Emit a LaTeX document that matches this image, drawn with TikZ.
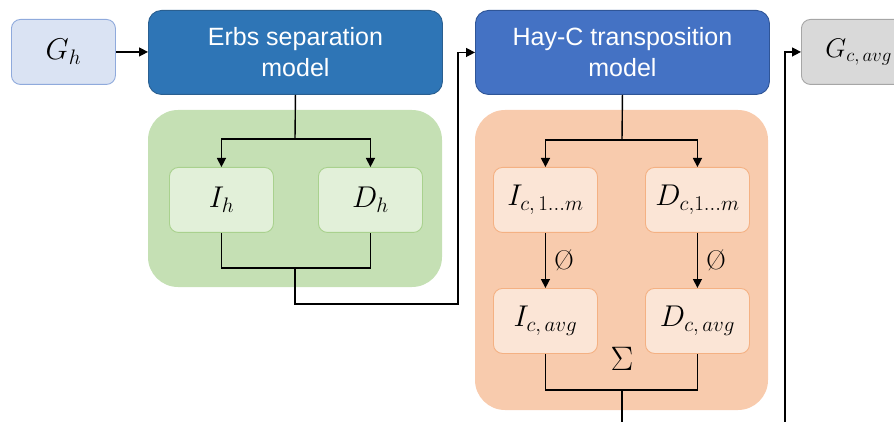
\RequirePackage{fix-cm}
\documentclass[tikz,border=0pt]{standalone}
\usepackage{fontspec}
\newfontfamily\arialfont{Liberation Sans}
\usetikzlibrary{arrows.meta,positioning}
\definecolor{ghfill}{HTML}{DAE3F3}
\definecolor{ghline}{HTML}{8FAADC}
\definecolor{erbsfill}{HTML}{2E75B6}
\definecolor{erbsline}{HTML}{2A5F90}
\definecolor{hayfill}{HTML}{4472C4}
\definecolor{hayline}{HTML}{2F5597}
\definecolor{greenpanel}{HTML}{C5E0B4}
\definecolor{greenbox}{HTML}{E2F0D9}
\definecolor{greenline}{HTML}{A9D18E}
\definecolor{orangepanel}{HTML}{F8CBAD}
\definecolor{orangebox}{HTML}{FBE5D6}
\definecolor{orangeline}{HTML}{F4B183}
\definecolor{gcfill}{HTML}{D9D9D9}
\definecolor{gcline}{HTML}{A6A6A6}
\tikzset{
  valbox/.style={draw, rounded corners=9pt, line width=0.9pt, minimum width=104pt,
    minimum height=65pt, inner sep=0pt, anchor=north west, font=\fontsize{30}{36}\selectfont},
  modelbox/.style={draw, rounded corners=13pt, line width=0.9pt, minimum width=294pt,
    minimum height=84pt, anchor=north west, align=center, text=white,
    font=\arialfont\fontsize{25}{31}\selectfont},
  wire/.style={line width=1.4pt},
  link/.style={line width=1.4pt, -{Triangle[length=9pt,width=9pt]}},
  oplabel/.style={font=\fontsize{27}{32}\selectfont}
}

\begin{document}
\begin{tikzpicture}[x=1pt,y=-1pt]
		%%%%% START %%%%%
		\useasboundingbox (0,0) rectangle (894,422);
		
		% panels
		\fill[greenpanel, rounded corners=30pt] (148,110) rectangle (442,287);
		\fill[orangepanel, rounded corners=30pt] (475,110) rectangle (768,410);
		
		% top row
		\node[valbox, fill=ghfill, draw=ghline] (gh) at (11,19) {$G_h$};
		\node[modelbox, fill=erbsfill, draw=erbsline] (erbs) at (148,10) {Erbs separation\\model};
		\node[modelbox, fill=hayfill, draw=hayline] (hay) at (475,10) {Hay-C transposition\\model};
		\node[valbox, fill=gcfill, draw=gcline, minimum width=0pt, inner xsep=24pt,
		  font=\fontsize{27}{32}\selectfont] (gc) at (801,19) {$G_{c,\,avg}$};
		
		% green panel
		\node[valbox, fill=greenbox, draw=greenline] (ih) at (169,167) {$I_h$};
		\node[valbox, fill=greenbox, draw=greenline] (dh) at (318,167) {$D_h$};
		
		% orange panel
		\node[valbox, fill=orangebox, draw=orangeline] (ic) at (493,167) {$I_{c,\,1\ldots m}$};
		\node[valbox, fill=orangebox, draw=orangeline] (dc) at (645,167) {$D_{c,1\ldots m}$};
		\node[valbox, fill=orangebox, draw=orangeline] (icavg) at (493,288) {$I_{c,\,avg}$};
		\node[valbox, fill=orangebox, draw=orangeline] (dcavg) at (645,288) {$D_{c,\,avg}$};
		\node[oplabel, font=\fontsize{34}{40}\selectfont] (sum) at (622,359) {$\Sigma$};
		
		\coordinate (split1) at (295,139);
		\coordinate (merge1) at (295,268);
		\coordinate (bend1) at (458,304);
		\coordinate (split2) at (622,140);
		\coordinate (merge2) at (622,390);
		\coordinate (bend2) at (785,440);
		
		% connectors
		\draw[link] (gh.east) -- (erbs.west |- gh.east);
		\draw[wire] (erbs.south) -- (split1);
		\draw[link] (split1) -| (ih.north);
		\draw[link] (split1) -| (dh.north);
		\draw[wire] (ih.south) |- (merge1) -| (dh.south);
		\draw[link] (merge1) |- (bend1) |- (hay.west);
		
		\draw[wire] (hay.south) -- (split2);
		\draw[link] (split2) -| (ic.north);
		\draw[link] (split2) -| (dc.north);
		\draw[link] (ic.south) -- node[oplabel, right=5pt] {\O} (icavg.north);
		\draw[link] (dc.south) -- node[oplabel, right=5pt] {\O} (dcavg.north);
		\draw[wire] (icavg.south) |- (merge2) -| (dcavg.south);
		\draw[link] (merge2) |- (bend2) |- (gc.west);
		
		%%%%% END %%%%%
\end{tikzpicture}
\end{document}
